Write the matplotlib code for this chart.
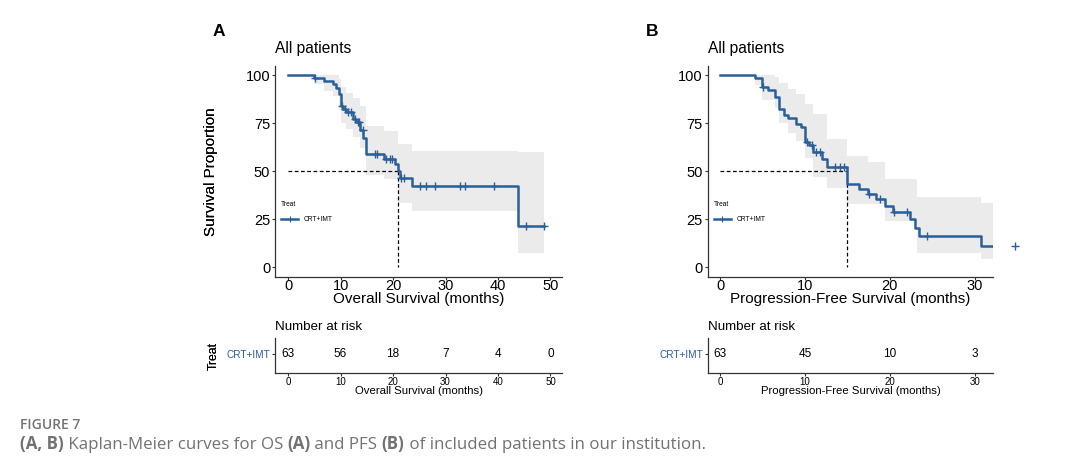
import matplotlib
matplotlib.use("Agg")
import matplotlib.pyplot as plt
from matplotlib.lines import Line2D

plt.rcParams['font.family'] = ['Liberation Sans', 'DejaVu Sans']

# ---------------- data ----------------
os_time = [0, 5.0, 6.9, 8.5, 9.2, 9.7, 10.0, 10.5, 11.0, 12.3, 13.0, 13.7, 14.3, 14.9,
           18.2, 20.3, 21.0, 21.4, 23.7, 43.8, 48.8]
os_surv = [100, 98.4, 96.8, 95.2, 93.6, 90.4, 84.0, 82.4, 80.7, 77.4, 75.9, 71.5, 67.5, 59.0,
           56.5, 53.5, 50.0, 46.5, 42.5, 21.2, 21.2]
os_cens_time = [5.2, 10.3, 10.8, 11.5, 12.0, 12.7, 13.3, 13.6, 14.2, 16.6, 17.0, 18.6, 19.4,
                19.8, 21.6, 22.0, 25.2, 26.2, 27.9, 32.8, 33.8, 39.3, 45.4, 48.8]
os_cens_surv = [98.4, 84.0, 82.4, 80.7, 80.7, 77.4, 75.9, 75.9, 71.5, 59.0, 59.0, 56.5, 56.5,
                56.5, 46.5, 46.5, 42.5, 42.5, 42.5, 42.5, 42.5, 42.5, 21.2, 21.2]
os_band_time = [0, 5.0, 6.9, 8.5, 9.7, 10.0, 11.0, 12.3, 13.7, 14.9, 18.2, 21.0, 23.7, 43.8, 48.8]
os_upper = [100, 100, 100, 100, 98, 94, 91, 88, 84, 73.6, 71, 64.2, 60.6, 60.2, 60.2]
os_lower = [100, 95.5, 92, 89, 84, 75, 72, 68, 62, 48, 46, 33.6, 29.3, 7.6, 7.6]
os_median = 21.0
os_risk_time = [0, 10, 20, 30, 40, 50]
os_risk = [63, 56, 18, 7, 4, 0]

pfs_time = [0, 4.1, 5.0, 5.6, 6.5, 7.0, 7.5, 8.0, 9.0, 9.5, 10.0, 10.5, 11.0, 12.0, 12.6,
            15.0, 16.4, 17.4, 18.4, 19.4, 20.4, 22.4, 23.0, 23.5, 30.8, 32.2]
pfs_surv = [100, 98.4, 93.8, 92.1, 88.9, 82.5, 79.4, 77.8, 74.6, 73.0, 65.1, 63.4, 60.0, 56.3,
            52.4, 43.5, 40.8, 38.2, 35.4, 31.9, 28.8, 25.0, 20.6, 16.3, 10.9, 10.9]
pfs_cens_time = [5.1, 10.2, 10.8, 11.3, 11.8, 13.6, 14.1, 14.6, 17.6, 18.8, 20.5, 22.0, 24.4, 34.8]
pfs_cens_surv = [93.8, 65.1, 63.4, 60.0, 60.0, 52.4, 52.4, 52.4, 38.2, 35.4, 28.8, 28.8, 16.3, 10.9]
pfs_band_time = [0, 4.1, 5.0, 6.5, 7.0, 8.0, 9.0, 10.0, 11.0, 12.6, 15.0, 17.4, 19.4, 23.2, 30.8, 32.2]
pfs_upper = [100, 100, 100, 99, 96, 93, 90, 85, 80, 67, 58, 55, 46, 36.3, 33.6, 33.6]
pfs_lower = [100, 95, 87, 83, 75, 70, 66, 57, 47, 41.5, 33, 33, 24, 7.6, 4.3, 4.3]
pfs_median = 15.0
pfs_risk_time = [0, 10, 20, 30]
pfs_risk = [63, 45, 10, 3]

y_ticks = [0, 25, 50, 75, 100]
group = "CRT+IMT"

# ---------------- style ----------------
W, H = 1079, 472
fig = plt.figure(figsize=(W / 100, H / 100), dpi=100)
BLUE = "#2B5F97"
BAND = "#EBEBEB"
SPINE = "#333333"


def fx(px):
    return px / W


def fy(py):
    return 1 - py / H


def style_axes(ax):
    for s in ("top", "right"):
        ax.spines[s].set_visible(False)
    for s in ("left", "bottom"):
        ax.spines[s].set_color(SPINE)
        ax.spines[s].set_linewidth(0.9)
    ax.tick_params(colors=SPINE, length=2.2, width=0.8, labelcolor="black", pad=1.2)


def km_panel(left_px, right_px, xlim, xticks, times, surv, ct, cs, bt, lo, up, med,
             xlabel, letter, rtimes, risks):
    top, bot = 65.7, 276.7
    wpx = right_px - left_px
    ax = fig.add_axes([fx(left_px), fy(bot), fx(wpx), (bot - top) / H])
    ax.fill_between(bt, lo, up, step="post", color=BAND, lw=0, zorder=1)
    ax.plot([0, med], [50, 50], ls=(0, (3, 2)), color="black", lw=0.9, zorder=2)
    ax.plot([med, med], [50, 0], ls=(0, (3, 2)), color="black", lw=0.9, zorder=2)
    ax.step(times, surv, where="post", color=BLUE, lw=1.8, zorder=3)
    ax.plot(ct, cs, ls="none", marker="+", ms=6, mew=1.0, color=BLUE, zorder=4,
            clip_on=False)
    ax.set_xlim(*xlim)
    ax.set_ylim(-5, 105)
    ax.set_xticks(xticks)
    ax.set_yticks(y_ticks)
    style_axes(ax)
    ax.tick_params(labelsize=10.5)
    ax.tick_params(axis="x", pad=-0.5)
    ax.set_xlabel(xlabel, fontsize=11)
    ax.xaxis.set_label_coords(0.5, -0.073)
    ax.set_ylabel("Survival Proportion", fontsize=11)
    ax.yaxis.set_label_coords((218 - left_px) / wpx, 0.5)
    ax.set_title("All patients", loc="left", fontsize=11.2, pad=9)
    h = Line2D([], [], color=BLUE, lw=1.8, marker="+", ms=4, mew=0.8)
    leg = ax.legend([h], [group], title="Treat", loc="upper left",
                    bbox_to_anchor=(0.012, 0.372), frameon=False, fontsize=4.8,
                    title_fontsize=4.8, handlelength=2.6, handletextpad=0.8,
                    borderaxespad=0.2, borderpad=0.2)
    leg._legend_box.align = "left"
    leg._legend_box.sep = 6
    fig.text(fx(left_px - 62), fy(32), letter, fontsize=12.5, fontweight="bold",
             ha="left", va="center")

    # risk table
    rt, rb = 338.3, 372.7
    axt = fig.add_axes([fx(left_px), fy(rb), fx(wpx), (rb - rt) / H])
    axt.set_xlim(*xlim)
    axt.set_ylim(0, 1)
    for t, n in zip(rtimes, risks):
        axt.text(t, 0.53, str(n), ha="center", va="center", fontsize=8.5)
    axt.set_xticks(xticks)
    axt.set_yticks([0.53])
    axt.set_yticklabels([group])
    style_axes(axt)
    axt.tick_params(axis="y", labelsize=7.2)
    axt.tick_params(axis="x", labelsize=7, pad=0.8)
    for lab in axt.get_yticklabels():
        lab.set_color(BLUE)
    axt.set_xlabel(xlabel, fontsize=8.2, labelpad=0)
    axt.xaxis.set_label_coords(0.5, -0.40)
    axt.set_ylabel("Treat", fontsize=8.8)
    axt.yaxis.set_label_coords((220 - left_px) / wpx, 0.5)
    axt.set_title("Number at risk", loc="left", fontsize=9.6, pad=6)
    return ax, axt


km_panel(275, 562, (-2.5, 52.2), os_risk_time, os_time, os_surv, os_cens_time, os_cens_surv,
         os_band_time, os_lower, os_upper, os_median, "Overall Survival (months)", "A",
         os_risk_time, os_risk)
km_panel(707.7, 993.3, (-1.45, 32.2), [0, 10, 20, 30], pfs_time, pfs_surv, pfs_cens_time,
         pfs_cens_surv, pfs_band_time, pfs_lower, pfs_upper, pfs_median,
         "Progression-Free Survival (months)", "B", pfs_risk_time, pfs_risk)

# ---------------- caption ----------------
CAP = "#727272"
X0 = 20
fig.text(fx(X0), fy(429), "FIGURE 7", fontsize=10, color=CAP, fontweight="semibold",
         family=["Open Sans", "DejaVu Sans"], va="baseline")
parts = [("(A, B)", "bold"), (" Kaplan-Meier curves for OS ", "normal"), ("(A)", "bold"),
         (" and PFS ", "normal"), ("(B)", "bold"),
         (" of included patients in our institution.", "normal")]
renderer = fig.canvas.get_renderer()
x = X0
for s, wgt in parts:
    t = fig.text(fx(x), fy(449), s, fontsize=12.2, color=CAP, fontweight=wgt,
                 family=["Open Sans", "DejaVu Sans"], va="baseline")
    bb = t.get_window_extent(renderer=renderer)
    x += bb.width

fig.savefig("out.png", dpi=100)
